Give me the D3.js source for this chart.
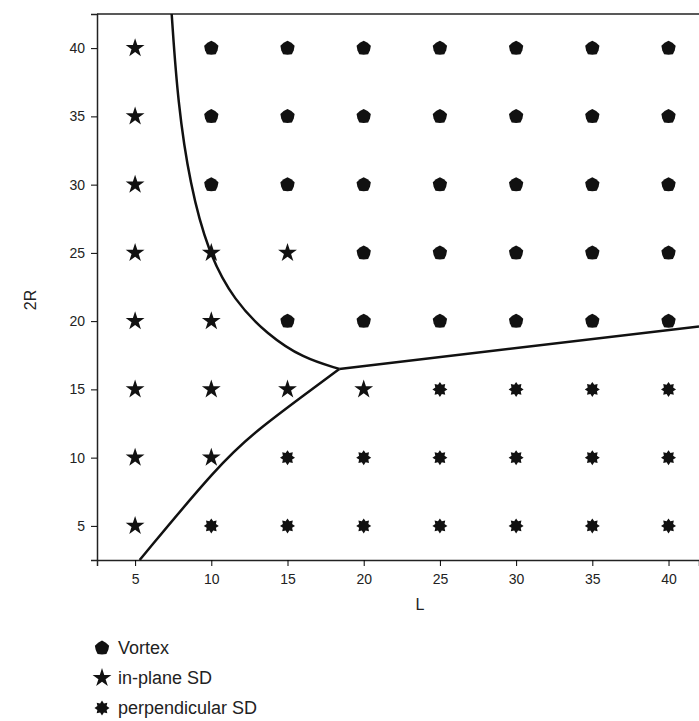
<!DOCTYPE html>
<html><head><meta charset="utf-8">
<script src="https://cdn.jsdelivr.net/npm/d3@7"></script>
<style>body{margin:0;background:#fff}text{font-family:Arial,"Liberation Sans",sans-serif;fill:#222}</style>
</head><body><svg width="699" height="721"></svg>
<script>
const Ls = [5, 10, 15, 20, 25, 30, 35, 40];
const Rs = [40, 35, 30, 25, 20, 15, 10, 5];
// V = vortex, S = in-plane SD, P = perpendicular SD; rows follow Rs, columns follow Ls
const phases = [
  "SVVVVVVV",
  "SVVVVVVV",
  "SVVVVVVV",
  "SSSVVVVV",
  "SSVVVVVV",
  "SSSSPPPP",
  "SSPPPPPP",
  "SPPPPPPP"
];
const boundaryVortex = [[7.4, 42.5], [7.8, 36], [8.6, 30], [9.8, 25], [11.5, 21.5], [13.7, 19], [16, 17.3], [18.4, 16.5]];
const boundaryPerp = [[18.4, 16.5], [42, 19.6]];
const boundaryLow = [[18.4, 16.5], [16, 14.5], [13, 12], [10.5, 9.5], [5.3, 2.5]];
const legendItems = [["V", "Vortex"], ["S", "in-plane SD"], ["P", "perpendicular SD"]];

const svg = d3.select("svg");
const x = d3.scaleLinear().domain([2.5, 42]).range([97, 699]);
const y = d3.scaleLinear().domain([2.5, 42.5]).range([560, 14]);

svg.append("g").attr("transform", "translate(0,560)")
  .call(d3.axisBottom(x).tickValues(Ls).tickSize(6).tickPadding(8))
  .call(g => g.selectAll("text").attr("font-size", 14));
svg.append("g").attr("transform", "translate(97,0)")
  .call(d3.axisLeft(y).tickValues(Rs).tickSize(6).tickPadding(6))
  .call(g => g.selectAll("text").attr("font-size", 14));
svg.selectAll(".domain").attr("stroke", "#222").attr("stroke-width", 1.5);
svg.append("line").attr("x1", 97).attr("x2", 699).attr("y1", 14).attr("y2", 14).attr("stroke", "#222").attr("stroke-width", 1.5);

svg.append("text").attr("x", 420).attr("y", 610).attr("text-anchor", "middle").attr("font-size", 16).text("L");
svg.append("text").attr("transform", "translate(36,300) rotate(-90)").attr("text-anchor", "middle").attr("font-size", 16).text("2R");

function starPath(n, r1, r2) {
  const pts = [];
  for (let i = 0; i < 2 * n; i++) {
    const a = -Math.PI / 2 + i * Math.PI / n;
    const r = i % 2 ? r2 : r1;
    pts.push([r * Math.cos(a), r * Math.sin(a)]);
  }
  return "M" + pts.join("L") + "Z";
}
const shapes = {
  V: starPath(5, 7.5, 6.6),
  S: d3.symbol(d3.symbolStar, 110)(),
  P: starPath(8, 7.5, 5)
};

const pts = [];
Rs.forEach((r, i) => Ls.forEach((l, j) => pts.push({ l, r, p: phases[i][j] })));
svg.selectAll(".pt").data(pts).enter().append("path")
  .attr("transform", d => `translate(${x(d.l)},${y(d.r)})`)
  .attr("d", d => shapes[d.p]).attr("fill", "#111");

const smooth = d3.line().x(d => x(d[0])).y(d => y(d[1])).curve(d3.curveBasis);
[boundaryVortex, boundaryPerp, boundaryLow].forEach(b =>
  svg.append("path").attr("d", smooth(b)).attr("fill", "none").attr("stroke", "#111").attr("stroke-width", 2.5));

const lg = svg.selectAll(".lg").data(legendItems).enter().append("g")
  .attr("transform", (d, i) => `translate(102,${648 + i * 30})`);
lg.append("path").attr("d", d => shapes[d[0]]).attr("fill", "#111");
lg.append("text").attr("x", 16).attr("y", 6).attr("font-size", 18).text(d => d[1]);
</script></body></html>
